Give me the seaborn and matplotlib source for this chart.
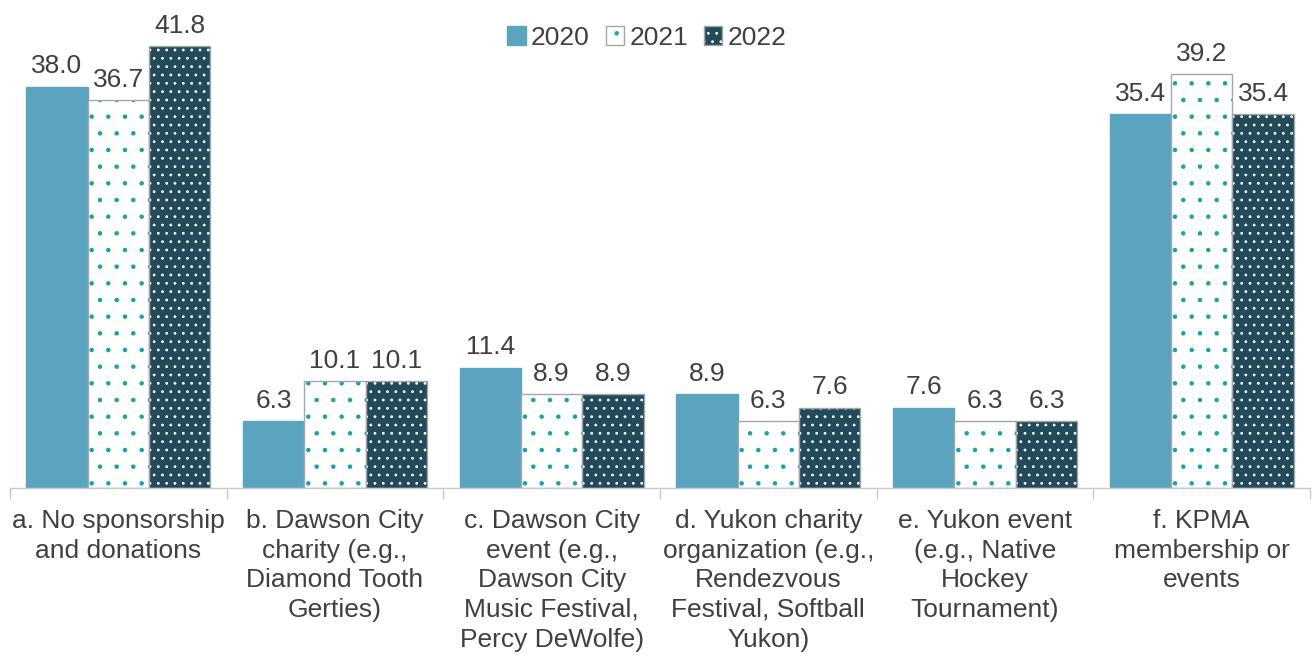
import matplotlib
matplotlib.use("Agg")
import matplotlib.pyplot as plt
import matplotlib.colors as mcolors
import pandas as pd
import seaborn as sns

categories = [
    "a. No sponsorship\nand donations",
    "b. Dawson City\ncharity (e.g.,\nDiamond Tooth\nGerties)",
    "c. Dawson City\nevent (e.g.,\nDawson City\nMusic Festival,\nPercy DeWolfe)",
    "d. Yukon charity\norganization (e.g.,\nRendezvous\nFestival, Softball\nYukon)",
    "e. Yukon event\n(e.g., Native\nHockey\nTournament)",
    "f. KPMA\nmembership or\nevents",
]
years = ["2020", "2021", "2022"]
values_2020 = [38.0, 6.3, 11.4, 8.9, 7.6, 35.4]
values_2021 = [36.7, 10.1, 8.9, 6.3, 6.3, 39.2]
values_2022 = [41.8, 10.1, 8.9, 7.6, 6.3, 35.4]

fills = ["#5BA4BF", "#FFFFFF", "#234A5B"]
edges = ["#5BA4BF", "#A6A6A6", "#A6A6A6"]
dots = [None, "#1AA0A6", "#FFFFFF"]
hatches = [None, ".", ".."]
text_color = "#404040"

rows = []
for year, vals in zip(years, [values_2020, values_2021, values_2022]):
    for cat, v in zip(categories, vals):
        rows.append({"category": cat, "year": year, "value": v})
df = pd.DataFrame(rows)

sns.set_style("white")
plt.rcParams["font.family"] = ["Liberation Sans", "DejaVu Sans"]
plt.rcParams["hatch.linewidth"] = 0.8

fig = plt.figure(figsize=(13.13, 6.56), dpi=100)
ax = fig.add_axes([10 / 1313, 168 / 656, 1300 / 1313, 486 / 656])

sns.barplot(data=df, x="category", y="value", hue="year", order=categories,
            hue_order=years, palette=fills, width=0.85, errorbar=None,
            legend=False, ax=ax, linewidth=1.0)

for i, cont in enumerate(ax.containers):
    for p in cont:
        p.set_facecolor(fills[i])
        p.set_edgecolor(edges[i])
        p.set_linewidth(1.0)
        if hatches[i] is not None:
            p.set_hatch(hatches[i])
            p._hatch_color = mcolors.to_rgba(dots[i])
    ax.bar_label(cont, fmt="%.1f", padding=6, fontsize=19, color=text_color)

ax.set_xlim(-0.5, 5.5)
ax.set_ylim(0, 46)
ax.set_xlabel("")
ax.set_ylabel("")
ax.set_yticks([])
for side in ["top", "right", "left"]:
    ax.spines[side].set_visible(False)
ax.spines["bottom"].set_color("#C8C8C8")
ax.spines["bottom"].set_linewidth(1.0)

ax.set_xticks(range(len(categories)))
ax.set_xticklabels(categories, fontsize=19, color=text_color, linespacing=1.3)
ax.tick_params(axis="x", which="major", length=0, pad=15)
ax.set_xticks([x - 0.5 for x in range(len(categories) + 1)], minor=True)
ax.tick_params(axis="x", which="minor", bottom=True, length=8, width=1.0,
               color="#C8C8C8")

handles = [cont[0] for cont in ax.containers]
leg = ax.legend(handles, years, loc="upper center", bbox_to_anchor=(0.49, 1.0),
                ncol=3, frameon=False, fontsize=19, handlelength=0.7,
                handleheight=0.7, handletextpad=0.2, columnspacing=0.6)
for t in leg.get_texts():
    t.set_color(text_color)

fig.savefig("out.png", dpi=100)
plt.close(fig)
